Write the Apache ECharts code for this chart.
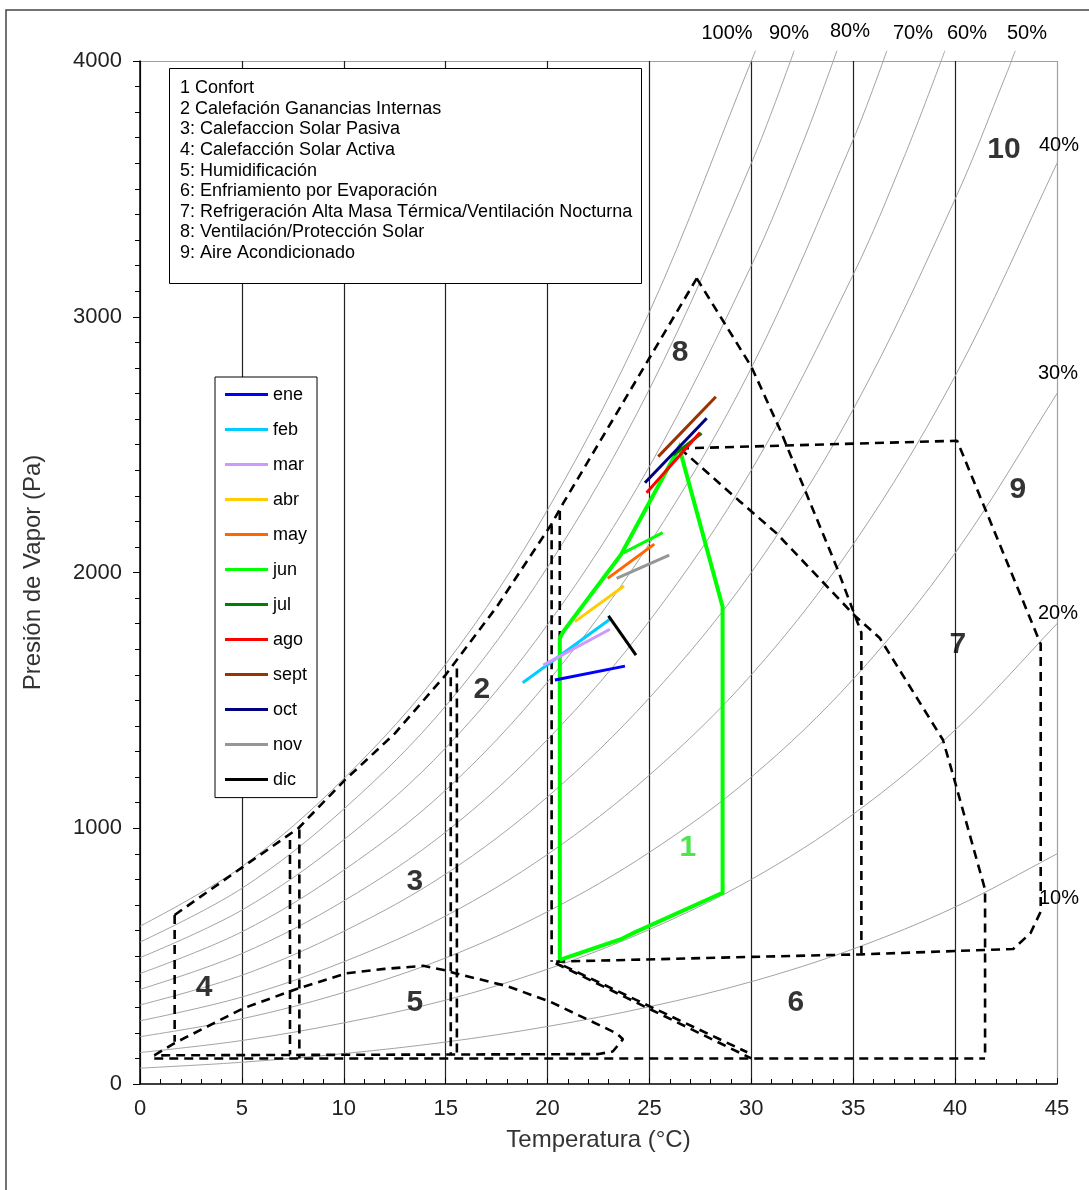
<!DOCTYPE html>
<html>
<head>
<meta charset="utf-8">
<script src="https://cdn.jsdelivr.net/npm/echarts@6/dist/echarts.min.js"></script>
<style>
html,body{margin:0;padding:0;background:#fff;}
#chart{width:1089px;height:1190px;}
</style>
</head>
<body>
<div id="chart"></div>
<script>
// ---------- DATA ----------
const xTicks = [0,5,10,15,20,25,30,35,40,45];
const yTicks = [0,1000,2000,3000,4000];

// Relative humidity curves [T (°C), vapour pressure (Pa)]
const rhLevels = ['100%','90%','80%','70%','60%','50%','40%','30%','20%','10%'];
const rh100 = [[0,617],[5,850],[10,1194],[15,1642],[20,2245],[25,3019],[30,4000],[30.2,4040]];
const rh90  = [[0,555],[5,765],[10,1075],[15,1478],[20,2021],[25,2717],[30,3600],[32.1,4040]];
const rh80  = [[0,494],[5,680],[10,955],[15,1314],[20,1796],[25,2415],[30,3200],[32.5,3674],[34.2,4040]];
const rh70  = [[0,432],[5,595],[10,836],[15,1149],[20,1572],[25,2113],[30,2800],[35,3693],[36.65,4040]];
const rh60  = [[0,370],[5,510],[10,716],[15,985],[20,1347],[25,1811],[30,2400],[35,3165],[37.5,3625],[39.5,4040]];
const rh50  = [[0,309],[5,425],[10,597],[15,821],[20,1123],[25,1510],[30,2000],[35,2638],[40,3460],[42.5,3946],[42.95,4040]];
const rh40  = [[0,247],[5,340],[10,478],[15,657],[20,898],[25,1208],[30,1600],[35,2110],[40,2768],[45,3600],[45.4,3676]];
const rh30  = [[0,185],[5,255],[10,358],[15,493],[20,674],[25,906],[30,1200],[35,1583],[40,2076],[45,2700],[45.4,2757]];
const rh20  = [[0,123],[5,170],[10,239],[15,328],[20,449],[25,604],[30,800],[35,1055],[40,1384],[45,1800],[45.4,1838]];
const rh10  = [[0,62],[5,85],[10,119],[15,164],[20,225],[25,302],[30,400],[35,528],[40,692],[45,900],[45.4,919]];

// Zone boundaries (dashed)
const upperBound = [[1.7,661],[5.07,850],[7.77,1000],[10.06,1189],[12.5,1370],[15.0,1600],[17.5,1865],[20.2,2190],[20.77,2271],[27.32,3150]];
const zone8Right = [[27.32,3150],[30.0,2805],[31.4,2560],[34.2,2019],[35.09,1830],[35.4,1765],[35.4,510]];
const zone7Edge  = [[26.5,2485],[29.44,2278],[31.24,2153],[35.09,1830],[36.3,1744],[39.4,1346],[39.9,1208],[41.47,760],[41.47,100]];
const zone9Edge  = [[26.5,2485],[40.1,2515],[44.2,1720],[44.2,674],[43.7,590],[42.85,528],[35.4,507],[30,497],[20.2,478]];
const zone4Left  = [[1.7,661],[1.7,165]];
const vLine7a    = [[7.36,954],[7.36,115]];
const vLine7b    = [[7.82,995],[7.82,100]];
const vLine15a   = [[15.25,1590],[15.25,112]];
const vLine15b   = [[15.55,1625],[15.55,118]];
const vLine20a   = [[20.2,2185],[20.2,478]];
const vLine20b   = [[20.6,2240],[20.6,480]];
const zone5Edge  = [[0.7,112],[1.7,160],[5.07,296],[7.77,374],[10.14,433],[12.0,450],[13.9,462],[14.97,445],[15.46,433],[18.0,383],[20.12,322],[23.39,198],[23.7,175],[23.2,127],[22.5,117],[0.7,112]];
const baseLine   = [[0.7,100],[41.47,100]];
const zone6DiagA = [[20.4,472],[30.0,100]];
const zone6DiagB = [[20.8,462],[29.8,124]];
const dashedLines = [upperBound, zone8Right, zone7Edge, zone9Edge, zone4Left, vLine7a, vLine7b,
  vLine15a, vLine15b, vLine20a, vLine20b, zone5Edge, baseLine, zone6DiagA, zone6DiagB];

// Comfort zone (1)
const comfortZone = [[20.6,485],[20.6,1743],[20.77,1769],[23.6,2070],[26.46,2489],[28.59,1866],[28.59,748],[24.2,590],[23.6,566],[20.6,485]];

// Monthly lines
const months = ['ene','feb','mar','abr','may','jun','jul','ago','sept','oct','nov','dic'];
const monthColors = ['#0000ff','#00ccff','#cc99ff','#ffcc00','#ff6600','#00ff00','#008000','#ff0000','#993300','#000080','#969696','#000000'];
const ene  = [[20.36,1580],[23.8,1634]];
const feb  = [[18.78,1569],[23.06,1817]];
const mar  = [[19.79,1638],[23.06,1778]];
const abr  = [[21.34,1808],[23.75,1947]];
const may  = [[22.95,1977],[25.24,2111]];
const jun  = [[23.72,2077],[25.65,2156]];
const jul  = [[26.17,2459],[27.56,2544]];
const ago  = [[24.86,2312],[27.48,2547]];
const sept = [[25.43,2453],[28.26,2687]];
const oct  = [[24.78,2351],[27.81,2603]];
const nov  = [[23.39,1977],[25.97,2068]];
const dic  = [[22.99,1830],[24.34,1677]];
const monthData = [ene,feb,mar,abr,may,jun,jul,ago,sept,oct,nov,dic];

// Zone numbers
const zoneNames = ['10','8','9','7','2','3','1','4','5','6'];
const zoneAt = [[42.4,3652],[26.5,2858],[43.08,2323],[40.14,1716],[16.78,1541],[13.49,790],[26.89,923],[3.14,375],[13.49,317],[32.19,317]];

const boxLines = [
 '1 Confort',
 '2 Calefación Ganancias Internas',
 '3: Calefaccion Solar Pasiva',
 '4: Calefacción Solar Activa',
 '5: Humidificación',
 '6: Enfriamiento por Evaporación',
 '7: Refrigeración Alta Masa Térmica/Ventilación Nocturna',
 '8: Ventilación/Protección Solar',
 '9: Aire Acondicionado'
];

// ---------- CHART ----------
const FONT = '"Liberation Sans", Arial, sans-serif';
const chart = echarts.init(document.getElementById('chart'), null, {renderer:'canvas'});

const series = [];
const rhCurves = [rh100,rh90,rh80,rh70,rh60,rh50,rh40,rh30,rh20,rh10];
rhCurves.forEach((d,i)=>{
  series.push({type:'line', name:'HR '+rhLevels[i], data:d, smooth:0.35, showSymbol:false, symbol:'none',
    clip:false, silent:true, z:1, lineStyle:{color:'#a3a3a3', width:1}});
});
dashedLines.forEach((d,i)=>{
  series.push({type:'line', name:'zona'+i, data:d, showSymbol:false, symbol:'none', silent:true, z:3,
    lineStyle:{color:'#000', width:2.6, type:[9,6], cap:'butt'}});
});
series.push({type:'line', name:'Confort', data:comfortZone, showSymbol:false, symbol:'none', silent:true, z:4,
  lineStyle:{color:'#00ff00', width:4, join:'miter'}});
monthData.forEach((d,i)=>{
  series.push({type:'line', name:months[i], data:d, showSymbol:false, symbol:'none', silent:true, z:5,
    color:monthColors[i], lineStyle:{color:monthColors[i], width:3}});
});
series.push({type:'scatter', name:'zonas', symbolSize:0, silent:true, z:6,
  data: zoneNames.map((n,i)=>({name:n, value:zoneAt[i],
    label:{color: n==='1' ? '#22dd22' : '#000'}})),
  label:{show:true, position:'inside', formatter:'{b}', fontSize:30, fontWeight:'bold', fontFamily:FONT,
    color:'#000', textBorderWidth:0}});

const graphics = [
  {type:'rect', z:0, shape:{x:6,y:10,width:1110,height:1220}, style:{fill:'transparent', stroke:'#444', lineWidth:1.5}},
  {type:'rect', z:50, shape:{x:169.5,y:68.5,width:472,height:215}, style:{fill:'#fff', stroke:'#000', lineWidth:1}},
  {type:'text', z:51, x:180, y:78, style:{text:boxLines.join('\n'), fontSize:18, fontFamily:FONT, fill:'#000', lineHeight:20.6, verticalAlign:'top', align:'left'}}
];
const rhLabelPos = [[727,33],[789,33],[850,31],[913,33],[967,33],[1027,33],[1059,145],[1058,373],[1058,613],[1059,898]];
rhLevels.forEach((t,i)=>{
  graphics.push({type:'text', z:51, x:rhLabelPos[i][0], y:rhLabelPos[i][1],
    style:{text:t, fontSize:20, fontFamily:FONT, fill:'#000', align:'center', verticalAlign:'middle'}});
});

const xSplitColors = xTicks.map((t,i)=> i===xTicks.length-1 ? '#a0a0a0' : '#222');
const ySplitColors = yTicks.map((t,i)=> i===yTicks.length-1 ? '#a0a0a0' : 'rgba(0,0,0,0)');

const option = {
  animation:false,
  backgroundColor:'#fff',
  textStyle:{fontFamily:FONT},
  grid:{left:140, right:32, top:61, bottom:106, containLabel:false},
  legend:{
    data:months, left:215, top:377, orient:'vertical', icon:'rect', itemWidth:43, itemHeight:3, itemGap:17,
    padding:[8.6,10,9,10], borderColor:'#000', borderWidth:1, backgroundColor:'#fff', selectedMode:false, z:20,
    textStyle:{fontSize:18, color:'#000', fontFamily:FONT}
  },
  xAxis:{
    type:'value', min:0, max:45, interval:5,
    axisLine:{show:true, onZero:false, lineStyle:{color:'#000', width:1.5}},
    axisTick:{show:true, inside:true, length:6, lineStyle:{color:'#000'}},
    minorTick:{show:true, splitNumber:5, length:5, lineStyle:{color:'#000'}},
    splitLine:{show:true, lineStyle:{color:xSplitColors, width:1.2}},
    axisLabel:{fontSize:22, color:'#222', margin:14, fontFamily:FONT, formatter:v=>String(v)},
    name:'Temperatura (°C)', nameLocation:'middle', nameGap:44,
    nameTextStyle:{fontSize:24, color:'#333', fontFamily:FONT}
  },
  yAxis:{
    type:'value', min:0, max:4000, interval:1000,
    axisLine:{show:true, onZero:false, lineStyle:{color:'#000', width:1.5}},
    axisTick:{show:true, length:7, lineStyle:{color:'#000'}},
    minorTick:{show:true, splitNumber:10, length:5, lineStyle:{color:'#000'}},
    splitLine:{show:true, lineStyle:{color:ySplitColors, width:1.2}},
    axisLabel:{fontSize:22, color:'#222', margin:18, fontFamily:FONT, formatter:v=>String(v)},
    name:'Presión de Vapor (Pa)', nameLocation:'middle', nameGap:95,
    nameTextStyle:{fontSize:24, color:'#333', fontFamily:FONT}
  },
  graphic:{elements:graphics},
  series:series
};
chart.setOption(option);
</script>
</body>
</html>
